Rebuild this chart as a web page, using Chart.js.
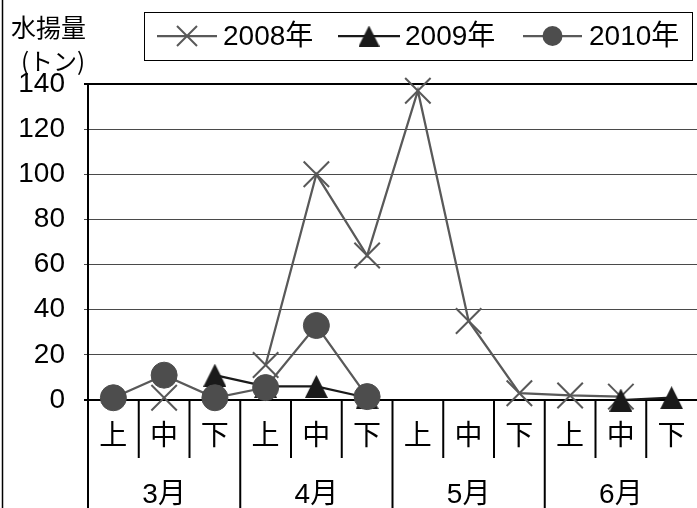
<!DOCTYPE html>
<html>
<head>
<meta charset="utf-8">
<script src="https://cdn.jsdelivr.net/npm/chart.js@4.4.0/dist/chart.umd.min.js"></script>
<style>
  html, body { margin: 0; padding: 0; background: #fff; }
  #wrap { width: 697px; height: 508px; }
</style>
</head>
<body>
<div id="wrap"><canvas id="chart" width="697" height="508"></canvas></div>
<script>
const months = ["3月", "4月", "5月", "6月"];
const thirds = ["上", "中", "下"];
const yMin = 0, yMax = 140, yStep = 20;
const seriesNames = ["2008年", "2009年", "2010年"];
const catch2008 = [null, 1, null, 15.5, 100, 64, 137, 35, 3, 2, 1.5, null];
const catch2009 = [null, null, 11, 6, 6, 1, null, null, null, null, 0, 1];
const catch2010 = [1, 11, 1, 5.5, 33, 1.5, null, null, null, null, null, null];

const FONT_NUM = '"Liberation Sans", "Noto Sans CJK JP", sans-serif';
const FONT_JP = '"Noto Sans CJK JP", sans-serif';

const labels = months.flatMap((m) => thirds.map((t) => m + t));

// Excel-style triangle: same width and height, centred on its box
function makeTriangle(size, color) {
  const c = document.createElement("canvas");
  c.width = size;
  c.height = size;
  const g = c.getContext("2d");
  g.fillStyle = color;
  g.beginPath();
  g.moveTo(size / 2, 0);
  g.lineTo(size, size);
  g.lineTo(0, size);
  g.closePath();
  g.fill();
  return c;
}
const triMark = makeTriangle(23, "#1a1a1a");
const triLegend = makeTriangle(21, "#1a1a1a");

function drawLegendMark(ctx, kind, x, y) {
  ctx.save();
  if (kind === "cross") {
    ctx.strokeStyle = "#595959";
    ctx.lineWidth = 2;
    ctx.beginPath();
    ctx.moveTo(x - 10, y - 10); ctx.lineTo(x + 10, y + 10);
    ctx.moveTo(x + 10, y - 10); ctx.lineTo(x - 10, y + 10);
    ctx.stroke();
  } else if (kind === "tri") {
    ctx.drawImage(triLegend, x - triLegend.width / 2, y - triLegend.height / 2);
  } else {
    ctx.fillStyle = "#4d4d4d";
    ctx.beginPath();
    ctx.arc(x, y, 10, 0, Math.PI * 2);
    ctx.fill();
  }
  ctx.restore();
}

const decor = {
  id: "decor",
  afterDraw(chart) {
    const { ctx, chartArea } = chart;
    const x = chart.scales.x;
    const base = chartArea.bottom;
    const H = chart.height;
    ctx.save();

    // outer frame (only left edge is inside the picture)
    ctx.strokeStyle = "#000";
    ctx.lineWidth = 1.5;
    ctx.beginPath();
    ctx.moveTo(2.5, 0);
    ctx.lineTo(2.5, H);
    ctx.stroke();

    // category separators below the axis
    ctx.lineWidth = 2;
    ctx.beginPath();
    ctx.moveTo(chartArea.left, base);
    ctx.lineTo(chartArea.left, H);
    for (let i = 1; i < labels.length; i++) {
      const sx = (x.getPixelForValue(i - 1) + x.getPixelForValue(i)) / 2;
      ctx.moveTo(sx, base);
      ctx.lineTo(sx, i % 3 === 0 ? H : base + 58);
    }
    ctx.stroke();

    ctx.fillStyle = "#000";
    ctx.textAlign = "center";
    ctx.textBaseline = "middle";
    ctx.font = "28px " + FONT_JP;
    labels.forEach((l, i) => ctx.fillText(thirds[i % 3], x.getPixelForValue(i), base + 34));
    ctx.font = "28px " + FONT_NUM;
    months.forEach((m, k) => {
      const mx = (x.getPixelForValue(k * 3) + x.getPixelForValue(k * 3 + 2)) / 2;
      ctx.fillText(m, mx, base + 95);
    });

    // axis title
    ctx.textAlign = "left";
    ctx.font = "25px " + FONT_JP;
    ctx.fillText("水揚量", 11, 27);
    ctx.font = "24px " + FONT_JP;
    ctx.fillText("(トン)", 21, 61);

    // legend
    ctx.lineWidth = 1;
    ctx.strokeStyle = "#000";
    ctx.strokeRect(144.5, 12.5, 548, 48);
    const items = [
      { x0: 157, x1: 217, tx: 223, kind: "cross", color: "#595959" },
      { x0: 338, x1: 400, tx: 405, kind: "tri", color: "#1a1a1a" },
      { x0: 523, x1: 582, tx: 589, kind: "circle", color: "#595959" },
    ];
    ctx.font = "28px " + FONT_NUM;
    items.forEach((it, k) => {
      ctx.strokeStyle = it.color;
      ctx.lineWidth = 2.25;
      ctx.beginPath();
      ctx.moveTo(it.x0, 36);
      ctx.lineTo(it.x1, 36);
      ctx.stroke();
      drawLegendMark(ctx, it.kind, (it.x0 + it.x1) / 2, 36);
      ctx.fillStyle = "#000";
      ctx.fillText(seriesNames[k], it.tx, 37);
    });

    ctx.restore();
  },
};

new Chart(document.getElementById("chart"), {
  type: "line",
  data: {
    labels: labels,
    datasets: [
      {
        label: seriesNames[0],
        data: catch2008,
        order: 3,
        clip: false,
        borderColor: "#595959",
        borderWidth: 2.25,
        pointStyle: "crossRot",
        pointRadius: 18,
        pointBorderWidth: 2,
        pointBorderColor: "#595959",
        pointBackgroundColor: "#595959",
      },
      {
        label: seriesNames[1],
        data: catch2009,
        order: 2,
        clip: false,
        borderColor: "#1a1a1a",
        borderWidth: 2.25,
        pointStyle: triMark,
        pointRadius: 12,
      },
      {
        label: seriesNames[2],
        data: catch2010,
        order: 1,
        clip: false,
        borderColor: "#595959",
        borderWidth: 2.25,
        pointStyle: "circle",
        pointRadius: 13,
        pointBorderWidth: 1,
        pointBorderColor: "#4d4d4d",
        pointBackgroundColor: "#4d4d4d",
      },
    ],
  },
  options: {
    responsive: false,
    animation: false,
    events: [],
    layout: { autoPadding: false, padding: { top: 84, bottom: 108, left: 0, right: 0 } },
    plugins: { legend: { display: false }, tooltip: { enabled: false } },
    elements: { line: { tension: 0 } },
    scales: {
      x: { display: false, offset: true },
      y: {
        min: yMin,
        max: yMax,
        afterFit(scale) { scale.width = 88; },
        ticks: {
          stepSize: yStep,
          color: "#000",
          padding: 19,
          font: { family: FONT_NUM, size: 28 },
        },
        grid: {
          tickLength: 4,
          color: (c) => (c.tick && (c.tick.value === yMin || c.tick.value === yMax) ? "#000" : "#4a4a4a"),
          lineWidth: (c) => (c.tick && (c.tick.value === yMin || c.tick.value === yMax) ? 2 : 1),
        },
        border: { display: true, color: "#000", width: 2 },
      },
    },
  },
  plugins: [decor],
});
</script>
</body>
</html>
